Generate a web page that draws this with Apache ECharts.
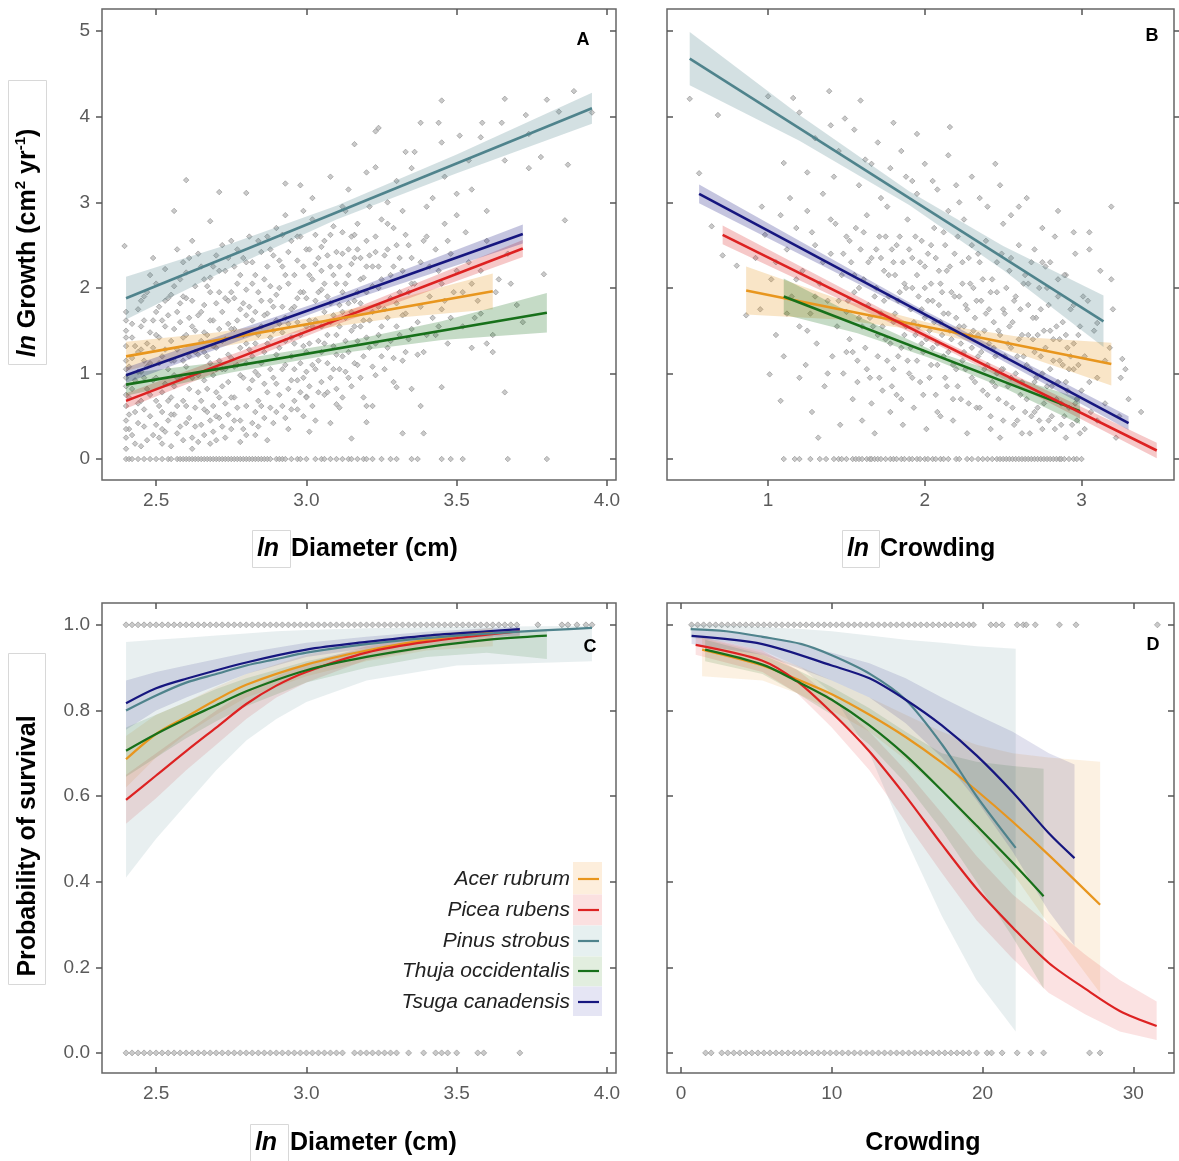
<!DOCTYPE html>
<html><head><meta charset="utf-8">
<script src="https://cdn.jsdelivr.net/npm/echarts@6/dist/echarts.min.js"></script>
<style>html,body{margin:0;padding:0;background:#fff}#c{width:1179px;height:1161px}</style>
</head><body><div id="c"></div>
<script>
// ---------------- DATA ----------------
const speciesNames = ['Acer rubrum','Picea rubens','Pinus strobus','Thuja occidentalis','Tsuga canadensis'];
const speciesColors = ['#E8961E','#DD2222','#4F838C','#17701A','#16167F'];

// Panel A: ln growth vs ln diameter (observed trees, read approximately)
const growthVsDiameter = [
[3.45,4.19],[3.66,4.21],[3.89,4.30],[3.80,4.20],[3.38,3.93],[3.24,3.87],[3.23,3.83],[3.44,3.93],[3.585,3.93],[3.65,3.93],[3.73,4.02],[3.84,4.06],[3.95,4.05],[3.16,3.68],[3.33,3.59],[3.45,3.70],[3.51,3.78],[3.58,3.76],[3.74,3.80],[3.78,3.53],[3.87,3.44],[3.74,3.40],[3.66,3.49],[3.54,3.49],[3.23,3.41],[3.36,3.59],[2.93,3.22],[2.71,3.12],[2.80,3.11],[2.60,3.26],[2.56,2.90],[2.68,2.78],[2.395,2.49],[3.86,2.79],[3.66,0.78],[3.79,2.16],[3.45,0.84],[3.39,0.30],[3.38,0.62],[3.32,0.30],[3.15,0.24],[3.20,0.43],[3.22,0.62],[3.30,0.84],[3.10,0.64],[3.00,0.73],
[3.02,3.05],[3.08,3.3],[3.14,3.15],[3.2,3.35],[3.27,3.0],[3.3,3.25],[3.35,3.4],[3.4,2.95],[3.46,3.3],[3.5,2.85],[3.55,3.15],[3.6,2.9],[3.12,2.95],[2.98,3.2],
[3.55,1.3],[3.58,1.7],[3.62,1.25],[3.68,2.05],[3.72,1.6],[3.55,2.05],
[2.40,0.25],[2.40,0.45],[2.40,0.62],[2.40,0.85],[2.40,1.05],[2.40,1.32],[2.40,1.5],[2.40,1.62],[2.41,0.35],[2.41,0.72],[2.42,1.18],[2.42,1.42],[2.43,0.55],[2.43,0.92],[2.44,1.25],[2.44,1.75],[2.45,0.15],[2.45,0.68],[2.45,1.02],[2.45,1.55],
[2.46,0.38],[2.46,1.9],[2.47,0.82],[2.47,1.35],[2.48,0.5],[2.48,1.12],[2.49,1.62],[2.49,0.28],[2.50,0.95],[2.50,1.45],[2.50,2.05],[2.51,0.62],[2.51,1.78],[2.52,1.2],[2.52,0.18],[2.53,0.88],[2.53,1.55],[2.53,2.22],[2.54,0.45],[2.54,1.05],[2.55,1.38],[2.55,0.72],[2.55,1.92],[2.49,2.35],[2.47,1.95],[2.52,0.35],[2.54,1.68],[2.46,1.15],
[2.56,0.52],[2.56,1.15],[2.57,1.72],[2.57,0.3],[2.58,0.95],[2.58,2.1],[2.59,1.42],[2.59,0.68],[2.60,1.88],[2.60,0.42],[2.60,1.08],[2.61,2.35],[2.61,0.82],[2.62,1.55],[2.62,0.25],[2.63,1.25],[2.63,2.02],[2.63,0.6],[2.64,1.68],[2.64,0.98],[2.65,0.4],[2.65,1.38],[2.65,2.25],[2.58,1.6],[2.61,1.2],[2.57,2.45],[2.62,0.12],[2.64,0.78],[2.59,1.9],[2.56,0.85],
[2.66,0.92],[2.66,1.8],[2.67,0.55],[2.67,1.45],[2.68,2.12],[2.68,1.12],[2.69,0.32],[2.69,1.62],[2.70,0.78],[2.70,2.38],[2.70,1.3],[2.71,1.95],[2.71,0.48],[2.72,1.05],[2.72,1.72],[2.73,0.65],[2.73,2.2],[2.73,1.4],[2.74,0.9],[2.74,1.85],[2.75,0.35],[2.75,1.18],[2.75,2.55],[2.68,0.18],[2.72,2.5],[2.69,0.98],[2.74,1.58],[2.67,2.02],[2.71,0.72],[2.66,1.25],
[2.76,1.52],[2.76,0.72],[2.77,2.05],[2.77,1.1],[2.78,0.45],[2.78,1.75],[2.79,2.35],[2.79,0.95],[2.80,1.35],[2.80,0.28],[2.80,1.98],[2.81,0.82],[2.81,2.6],[2.82,1.62],[2.82,1.2],[2.83,0.55],[2.83,2.15],[2.84,1.45],[2.84,0.98],[2.85,1.85],[2.85,0.62],[2.85,2.42],[2.78,1.3],[2.83,1.02],[2.76,2.25],[2.80,1.68],[2.84,0.38],[2.82,2.3],
[2.86,1.25],[2.86,2.1],[2.87,0.78],[2.87,1.7],[2.88,2.45],[2.88,1.05],[2.89,0.42],[2.89,1.5],[2.90,1.92],[2.90,0.88],[2.90,2.7],[2.91,1.3],[2.92,2.25],[2.92,0.62],[2.93,1.65],[2.93,1.1],[2.94,2.05],[2.94,0.35],[2.95,1.42],[2.95,2.55],[2.95,0.92],[2.88,1.85],[2.91,2.0],[2.93,2.85],[2.87,0.22],[2.92,1.48],
[2.96,1.78],[2.96,1.05],[2.97,2.32],[2.97,0.58],[2.98,1.45],[2.98,2.6],[2.99,0.95],[2.99,1.95],[3.00,1.25],[3.00,2.45],[3.00,0.72],[3.01,1.62],[3.01,2.15],[3.02,1.1],[3.02,2.8],[3.03,0.45],[3.03,1.85],[3.04,1.38],[3.04,2.35],[3.05,0.9],[3.05,1.98],[2.97,1.6],[3.01,0.32],[3.03,2.62],[2.99,2.9],[3.05,1.55],
[3.06,2.55],[3.06,1.35],[3.07,1.9],[3.07,0.78],[3.08,2.25],[3.08,1.6],[3.09,1.05],[3.09,2.72],[3.10,1.45],[3.10,2.05],[3.11,0.6],[3.11,1.8],[3.12,2.4],[3.12,1.2],[3.13,2.9],[3.13,1.65],[3.14,0.95],[3.14,2.15],[3.15,1.5],[3.15,2.6],[3.08,0.42],[3.12,1.95],
[3.16,1.85],[3.16,2.35],[3.17,1.1],[3.17,2.75],[3.18,1.55],[3.18,2.1],[3.19,0.72],[3.20,1.95],[3.20,2.55],[3.21,1.3],[3.21,2.95],[3.22,1.72],[3.22,2.25],[3.23,0.98],[3.23,2.6],[3.24,1.45],[3.24,2.0],[3.25,1.2],[3.25,2.8],[3.19,1.62],
[3.26,1.75],[3.27,2.45],[3.27,1.3],[3.28,2.15],[3.29,0.9],[3.29,2.7],[3.30,1.55],[3.31,2.35],[3.31,1.95],[3.32,1.15],[3.32,2.9],[3.33,1.7],[3.34,2.5],[3.34,1.4],[3.35,2.05],[3.35,0.82],
[3.37,1.6],[3.38,2.3],[3.39,1.25],[3.40,2.6],[3.41,1.9],[3.42,3.05],[3.43,1.45],[3.44,2.2],[3.45,1.75],[3.46,2.75],[3.47,1.35],[3.48,2.4],[3.49,1.95],[3.50,3.1],
[3.52,1.55],[3.54,2.3],[3.57,1.85],[3.60,2.55],[3.62,1.45],[3.64,2.1],[3.67,2.4],[3.70,1.8]
];
const growthVsDiameterDense = [
[2.40,0.12],[2.40,0.35],[2.40,0.75],[2.40,0.95],[2.40,1.15],[2.40,1.42],[2.40,1.72],[2.41,0.52],[2.41,1.08],[2.42,0.28],[2.42,0.82],[2.42,1.58],[2.43,0.18],[2.43,1.32],[2.44,0.42],[2.44,0.65],[2.44,1.02],[2.45,1.85],[2.45,1.28],[2.46,0.58],[2.46,0.95],[2.46,1.62],[2.47,0.22],[2.47,1.08],[2.48,0.75],[2.48,1.48],[2.48,2.15],[2.49,0.92],[2.49,1.3],[2.5,0.4],[2.5,0.68],[2.5,1.72],
[2.51,0.25],[2.51,1.12],[2.51,1.42],[2.52,0.55],[2.52,0.78],[2.52,1.62],[2.53,0.32],[2.53,1.28],[2.54,0.68],[2.54,1.88],[2.55,0.15],[2.55,0.52],[2.55,1.15],[2.56,0.98],[2.56,1.52],[2.56,2.02],[2.57,0.62],[2.57,1.28],[2.58,0.38],[2.58,1.82],[2.59,0.22],[2.59,1.15],[2.6,0.62],[2.6,1.45],[2.6,2.18],[2.53,1.85],[2.57,0.95],[2.59,2.3],
[2.61,0.48],[2.61,1.65],[2.62,0.95],[2.62,1.85],[2.63,0.38],[2.63,1.5],[2.64,0.2],[2.64,1.22],[2.64,2.4],[2.65,0.68],[2.65,1.72],[2.66,0.28],[2.66,1.48],[2.66,2.1],[2.67,0.82],[2.67,1.2],[2.68,0.45],[2.68,1.62],[2.68,1.95],[2.69,0.62],[2.69,1.32],[2.69,2.25],[2.7,0.5],[2.7,1.05],[2.7,1.82],[2.62,2.55],[2.66,0.58],[2.7,0.22],
[2.71,1.15],[2.71,1.52],[2.71,2.2],[2.72,0.38],[2.72,0.85],[2.72,1.38],[2.73,0.25],[2.73,1.88],[2.74,0.52],[2.74,1.22],[2.74,2.35],[2.75,0.72],[2.75,1.52],[2.75,1.95],[2.76,0.45],[2.76,1.08],[2.77,0.6],[2.77,1.62],[2.77,2.45],[2.78,0.98],[2.78,2.15],[2.79,0.35],[2.79,1.45],[2.79,1.82],[2.8,0.62],[2.8,1.12],[2.8,2.3],[2.73,1.05],[2.76,1.88],[2.78,0.2],
[2.81,1.28],[2.81,1.78],[2.82,0.42],[2.82,0.92],[2.82,2.05],[2.83,1.35],[2.83,1.72],[2.84,0.68],[2.84,1.95],[2.84,2.55],[2.85,1.12],[2.85,1.55],[2.86,0.48],[2.86,0.88],[2.86,1.68],[2.87,1.35],[2.87,2.25],[2.88,0.6],[2.88,1.42],[2.88,2.02],[2.89,0.95],[2.89,1.78],[2.89,2.38],[2.9,0.55],[2.9,1.22],[2.9,1.62],[2.87,2.6],[2.83,0.28],
[2.91,0.75],[2.91,1.58],[2.91,2.32],[2.92,1.05],[2.92,1.78],[2.93,0.48],[2.93,1.38],[2.93,2.15],[2.94,0.82],[2.94,1.58],[2.94,2.42],[2.95,1.2],[2.95,1.75],[2.96,0.68],[2.96,1.35],[2.96,2.15],[2.97,0.92],[2.97,1.88],[2.97,2.6],[2.98,0.78],[2.98,1.12],[2.98,1.95],[2.99,0.5],[2.99,1.32],[2.99,2.25],[3.0,1.02],[3.0,1.55],[3.0,1.88],[2.92,2.62],[2.95,0.58],
[3.01,0.85],[3.01,1.35],[3.01,2.45],[3.02,0.62],[3.02,1.55],[3.02,2.1],[3.03,1.05],[3.03,1.62],[3.03,2.28],[3.04,0.78],[3.04,1.15],[3.04,1.95],[3.05,1.25],[3.05,2.2],[3.05,2.48],[3.06,0.75],[3.06,1.72],[3.06,2.05],[3.07,1.12],[3.07,1.45],[3.07,2.38],[3.08,0.95],[3.08,1.82],[3.08,2.62],[3.09,1.32],[3.09,1.68],[3.09,2.15],[3.1,0.82],[3.1,1.22],[3.1,2.42],
[3.11,1.05],[3.11,1.55],[3.11,2.25],[3.12,0.72],[3.12,1.72],[3.12,2.65],[3.13,1.02],[3.13,1.38],[3.13,2.05],[3.14,1.25],[3.14,1.82],[3.14,2.45],[3.15,0.85],[3.15,1.72],[3.15,2.28],[3.16,1.12],[3.16,1.55],[3.16,2.62],[3.17,1.38],[3.17,1.95],[3.17,2.45],[3.18,0.95],[3.18,1.82],[3.18,2.35],[3.19,1.2],[3.19,2.12],[3.2,1.42],[3.2,2.25],[3.2,0.62],
[3.21,1.62],[3.21,2.38],[3.22,1.08],[3.22,2.02],[3.23,1.35],[3.23,2.42],[3.24,1.78],[3.24,2.25],[3.25,1.55],[3.25,2.1],[3.26,1.05],[3.26,2.38],[3.27,1.65],[3.27,2.75],[3.28,1.38],[3.28,1.88],[3.29,1.18],[3.29,2.25],[3.3,1.82],[3.3,2.5],[3.31,1.45],[3.32,1.68],[3.32,2.2],[3.33,1.25],[3.33,2.62],[3.34,1.95],[3.35,1.52],[3.35,2.35],
[3.36,2.05],[3.37,1.22],[3.38,1.78],[3.39,2.55],[3.4,1.45],[3.41,2.25],[3.42,1.65],[3.43,2.45],[3.44,1.55],[3.45,2.05],[3.46,1.85],[3.47,2.55],[3.48,1.65],[3.5,2.2],[3.52,1.95],[3.53,2.65],[3.56,1.65],[3.58,2.2],[3.6,1.35],[3.63,1.95]
];
const growthDiamZeroX = [2.40,2.41,2.42,2.44,2.46,2.48,2.50,2.52,2.54,2.55,2.57,2.58,2.59,2.60,2.61,2.62,2.63,2.64,2.65,2.66,2.67,2.68,2.69,2.70,2.71,2.72,2.73,2.74,2.75,2.76,2.77,2.78,2.79,2.80,2.81,2.82,2.83,2.84,2.85,2.86,2.87,2.88,2.90,2.91,2.92,2.93,2.95,2.97,2.98,3.00,3.03,3.05,3.06,3.08,3.10,3.12,3.14,3.15,3.17,3.19,3.20,3.22,3.25,3.28,3.30,3.35,3.37,3.45,3.48,3.52,3.67,3.80];

// Panel B: ln growth vs ln crowding
const growthVsCrowding = [
[0.50,4.21],[0.68,4.02],[1.39,4.30],[1.16,4.22],[1.0,4.24],[1.2,4.05],[1.49,3.98],[1.59,4.19],[1.8,3.93],[2.16,3.88],[1.10,3.46],[0.56,3.34],[0.64,2.72],[0.71,2.38],[0.80,2.26],[0.86,1.68],[1.01,0.99],[1.08,0.68],[3.19,2.10],[3.26,1.17],[3.01,1.90],[3.10,1.59],
[1.3,3.75],[1.45,3.6],[1.55,3.85],[1.62,3.5],[1.7,3.7],[1.78,3.4],[1.85,3.6],[1.92,3.25],[2.0,3.45],[2.08,3.15],[2.15,3.55],[2.22,3.0],[2.3,3.3],[2.4,2.95],[2.48,3.2],[2.55,2.85],[2.65,3.05],[2.75,2.7],[2.85,2.9],[2.95,2.65],[3.05,2.45],[1.25,3.35],[1.4,3.9],[1.95,3.8],[2.45,3.45],[2.7,2.45],[2.8,2.3],[2.9,2.15],
[3.02,0.35],[3.05,0.9],[3.1,0.45],[3.15,1.15],[3.22,0.25],[3.3,0.7],[3.38,0.55],[3.25,0.95],[2.9,0.25],[2.93,1.2],[2.96,0.65],[2.99,1.55],
[0.92,2.35],[0.95,1.75],[0.98,2.62],[1.02,2.1],[1.05,1.45],[1.08,2.85],[1.1,1.2],[1.12,2.45],[1.15,1.9],[1.18,2.7],[1.2,1.55],[1.2,0.95],[1.14,3.05],[0.96,2.95],
[1.22,2.2],[1.24,1.1],[1.25,2.9],[1.27,1.7],[1.28,0.55],[1.3,2.5],[1.31,1.35],[1.33,2.05],[1.35,3.1],[1.36,0.85],[1.38,1.85],[1.4,2.4],[1.41,1.2],[1.43,2.75],[1.44,1.55],[1.46,0.4],[1.47,2.15],[1.48,1.0],[1.5,2.6],[1.5,1.72],[1.32,0.25],[1.42,3.3],
[1.52,1.4],[1.53,2.3],[1.54,0.7],[1.55,1.95],[1.56,2.7],[1.57,1.15],[1.58,1.65],[1.59,2.45],[1.6,0.45],[1.61,2.1],[1.62,1.3],[1.63,2.85],[1.64,1.8],[1.65,0.95],[1.66,2.35],[1.67,1.55],[1.68,0.3],[1.69,2.0],[1.7,1.2],[1.71,2.6],[1.72,1.7],[1.73,0.8],[1.74,2.2],[1.75,1.4],[1.76,2.95],[1.77,1.9],[1.78,0.55],[1.79,2.45],[1.8,1.05],[1.8,1.6],[1.58,3.2],[1.66,3.45],[1.72,3.05],
[1.81,2.15],[1.82,0.75],[1.83,1.85],[1.84,2.6],[1.85,1.3],[1.86,0.4],[1.87,2.05],[1.88,1.55],[1.89,2.8],[1.9,1.0],[1.91,1.75],[1.92,2.35],[1.93,0.6],[1.94,1.45],[1.95,2.15],[1.96,1.9],[1.97,0.9],[1.98,2.55],[1.99,1.25],[2.0,1.65],[2.0,2.0],[2.01,0.35],[2.02,2.4],[2.03,1.5],[2.04,1.1],[2.05,1.85],[2.06,2.7],[2.07,0.75],[2.08,1.35],[2.09,2.2],[2.1,1.6],[2.1,0.5],[1.88,3.3],[1.95,3.1],[2.05,3.25],
[2.11,1.95],[2.12,1.2],[2.13,2.5],[2.14,0.85],[2.15,1.7],[2.16,2.25],[2.17,1.4],[2.18,0.45],[2.19,1.9],[2.2,1.05],[2.21,2.6],[2.22,1.55],[2.23,0.7],[2.24,2.05],[2.25,1.25],[2.26,1.8],[2.27,0.3],[2.28,2.35],[2.29,1.45],[2.3,0.95],[2.31,2.0],[2.32,1.65],[2.33,0.6],[2.34,1.2],[2.35,2.3],[2.36,1.85],[2.37,0.8],[2.38,1.5],[2.39,2.55],[2.4,1.1],[2.15,2.9],[2.25,2.8],[2.35,3.05],[2.2,3.2],
[2.41,1.75],[2.42,0.5],[2.43,2.1],[2.44,1.3],[2.45,0.85],[2.46,1.95],[2.47,1.5],[2.48,0.25],[2.49,2.4],[2.5,1.05],[2.51,1.7],[2.52,0.65],[2.53,1.35],[2.54,2.2],[2.55,0.95],[2.56,1.6],[2.57,0.4],[2.58,1.9],[2.59,1.2],[2.6,2.5],[2.61,0.75],[2.62,1.45],[2.63,2.05],[2.64,0.55],[2.65,1.1],[2.66,1.8],[2.67,0.3],[2.68,2.3],[2.69,1.4],[2.7,0.9],[2.5,2.75],[2.6,2.95],
[2.71,1.65],[2.72,0.6],[2.73,2.0],[2.74,1.2],[2.75,0.35],[2.76,1.5],[2.77,2.25],[2.78,0.85],[2.79,1.8],[2.8,1.05],[2.81,0.5],[2.82,1.4],[2.83,2.6],[2.84,0.7],[2.85,1.9],[2.86,1.15],[2.87,0.4],[2.88,1.6],[2.89,2.15],[2.9,0.9],[2.91,1.3],[2.92,0.6],[2.93,1.75],[2.95,1.05],[2.96,2.4],[2.97,0.45],[2.98,1.45],[3.0,0.8],
[3.02,1.2],[3.04,1.85],[3.06,0.55],[3.08,1.5],[3.1,0.95],[3.12,2.2],[3.15,0.65],[3.18,1.3],[3.2,1.75],[3.24,0.5],[3.28,1.05],[3.19,2.95],[3.05,2.65]
];
const growthVsCrowdingDense = [
[1.51,1.85],[1.52,2.55],[1.54,1.25],[1.55,2.15],[1.57,0.9],[1.58,2.0],[1.6,1.55],[1.61,2.65],[1.63,1.05],[1.64,2.3],[1.65,1.65],[1.66,0.65],[1.68,1.9],[1.69,2.45],[1.7,1.45],
[1.71,0.95],[1.72,2.35],[1.73,1.55],[1.74,1.85],[1.75,2.6],[1.76,1.15],[1.77,2.15],[1.78,1.35],[1.79,0.85],[1.8,2.3],[1.81,1.7],[1.82,2.5],[1.83,1.2],[1.84,1.95],[1.85,0.7],[1.86,2.3],[1.87,1.45],[1.88,2.0],[1.89,1.15],[1.9,2.45],
[1.91,1.3],[1.92,2.0],[1.93,1.6],[1.94,2.6],[1.95,1.15],[1.96,1.55],[1.97,2.3],[1.98,1.75],[1.99,0.75],[2.0,2.25],[2.01,1.4],[2.02,1.85],[2.03,0.95],[2.04,2.05],[2.05,1.3],[2.06,1.6],[2.07,2.35],[2.08,1.1],[2.09,1.8],[2.1,2.05],[1.92,0.95],[1.98,1.35],[2.04,2.5],[2.08,0.55],
[2.11,1.45],[2.12,1.7],[2.13,0.95],[2.14,2.2],[2.15,1.25],[2.16,1.5],[2.17,1.95],[2.18,1.1],[2.19,2.4],[2.2,1.65],[2.21,0.85],[2.22,1.9],[2.23,1.35],[2.24,2.3],[2.25,1.55],[2.26,1.05],[2.27,1.75],[2.28,0.65],[2.29,2.05],[2.3,1.3],[2.12,2.65],[2.18,0.7],[2.24,1.15],[2.3,2.5],
[2.31,1.5],[2.32,0.9],[2.33,1.85],[2.34,1.45],[2.35,0.6],[2.36,1.25],[2.37,2.1],[2.38,1.05],[2.39,1.7],[2.4,0.75],[2.41,1.35],[2.42,1.95],[2.43,0.9],[2.44,1.6],[2.45,1.2],[2.46,2.3],[2.47,0.7],[2.48,1.45],[2.49,1.05],[2.5,1.75],[2.34,2.4],[2.42,0.35],[2.46,1.0],[2.5,0.45],
[2.51,1.2],[2.52,2.0],[2.53,0.85],[2.54,1.55],[2.55,1.3],[2.56,0.6],[2.57,1.85],[2.58,1.0],[2.59,0.45],[2.6,1.4],[2.61,1.75],[2.62,0.9],[2.63,1.2],[2.64,2.15],[2.65,0.7],[2.66,1.45],[2.67,1.05],[2.68,0.5],[2.69,1.65],[2.7,1.25],[2.55,2.35],[2.62,0.3],[2.66,2.05],[2.7,0.55],
[2.71,0.95],[2.72,1.45],[2.73,0.45],[2.74,1.75],[2.75,1.0],[2.76,0.65],[2.77,1.3],[2.78,2.0],[2.79,0.45],[2.8,1.5],[2.81,0.85],[2.82,1.15],[2.83,0.35],[2.84,1.55],[2.85,0.9],[2.86,1.4],[2.87,0.65],[2.88,1.1],[2.89,0.5],[2.9,1.45],[2.91,0.8],[2.92,1.05],[2.94,0.4],[2.95,1.35],[2.97,0.7],[2.98,1.1],[2.99,0.3],[2.75,2.3],[2.85,2.1],[2.95,1.8],
[1.05,2.3],[1.12,1.7],[1.18,2.1],[1.25,1.5],[1.3,1.9],[1.35,2.3],[1.38,1.0],[1.45,1.85],[1.48,2.4],[1.5,1.25],[1.28,2.65],[1.4,2.8]
];
const growthCrowdZeroX = [1.10,1.17,1.20,1.27,1.33,1.37,1.42,1.45,1.47,1.50,1.54,1.56,1.58,1.60,1.63,1.65,1.66,1.68,1.70,1.72,1.75,1.78,1.80,1.82,1.85,1.87,1.90,1.92,1.95,1.97,2.00,2.02,2.05,2.07,2.10,2.12,2.15,2.20,2.22,2.27,2.30,2.34,2.37,2.40,2.43,2.46,2.48,2.50,2.52,2.54,2.56,2.58,2.60,2.62,2.64,2.66,2.68,2.70,2.72,2.74,2.76,2.78,2.80,2.82,2.84,2.86,2.87,2.89,2.92,2.95,2.97,3.00];

// Panel C: survival (1 = alive, 0 = dead) vs ln diameter
const survDiamAliveX = [2.40,2.42,2.44,2.46,2.48,2.50,2.52,2.54,2.56,2.58,2.60,2.62,2.64,2.66,2.68,2.70,2.72,2.74,2.76,2.78,2.80,2.82,2.84,2.86,2.88,2.90,2.92,2.94,2.96,2.98,3.00,3.02,3.04,3.06,3.08,3.10,3.12,3.14,3.16,3.18,3.20,3.22,3.24,3.26,3.28,3.30,3.32,3.34,3.36,3.38,3.40,3.42,3.44,3.46,3.48,3.50,3.52,3.54,3.56,3.58,3.60,3.62,3.64,3.66,3.68,3.70,3.77,3.85,3.87,3.90,3.93,3.95];
const survDiamDeadX = [2.40,2.42,2.44,2.46,2.48,2.50,2.52,2.54,2.56,2.58,2.60,2.62,2.64,2.66,2.68,2.70,2.72,2.74,2.76,2.78,2.80,2.82,2.84,2.86,2.88,2.90,2.92,2.94,2.96,2.98,3.00,3.02,3.04,3.06,3.08,3.10,3.12,3.16,3.18,3.20,3.22,3.24,3.26,3.28,3.30,3.34,3.39,3.43,3.45,3.47,3.50,3.57,3.59,3.71];

// Panel D: survival vs crowding
const survCrowdAliveX = [0.7,1.1,1.5,1.9,2.3,2.7,3.1,3.5,3.9,4.3,4.7,5.1,5.5,5.9,6.3,6.7,7.1,7.5,7.9,8.3,8.7,9.1,9.5,9.9,10.3,10.7,11.1,11.5,11.9,12.3,12.7,13.1,13.5,13.9,14.3,14.7,15.1,15.5,15.9,16.3,16.7,17.1,17.5,17.9,18.3,18.7,19.1,19.4,20.55,20.9,21.3,22.3,22.7,22.9,23.5,25.1,26.2,31.6];
const survCrowdDeadX = [1.63,2.0,2.7,3.1,3.5,3.9,4.3,4.7,5.1,5.5,5.9,6.3,6.7,7.1,7.5,7.9,8.3,8.7,9.1,9.5,9.9,10.3,10.7,11.1,11.5,11.9,12.3,12.7,13.1,13.5,13.9,14.3,14.7,15.1,15.5,15.9,16.3,16.7,17.1,17.5,17.9,18.3,18.7,19.1,19.6,20.3,20.6,21.3,22.3,23.2,24.05,27.1,27.8];

// Fitted lines and confidence bands, panel A (x = ln diameter)
const A_acer_x=[2.40,3.62], A_acer_y=[1.20,1.96];
const A_acer_bx=[2.40,2.70,3.00,3.30,3.62], A_acer_lo=[1.03,1.30,1.50,1.65,1.75], A_acer_hi=[1.37,1.48,1.64,1.87,2.17];
const A_picea_x=[2.40,3.72], A_picea_y=[0.68,2.46];
const A_picea_bx=[2.40,3.06,3.72], A_picea_lo=[0.59,1.52,2.36], A_picea_hi=[0.77,1.62,2.56];
const A_pinus_x=[2.40,3.95], A_pinus_y=[1.88,4.10];
const A_pinus_bx=[2.40,2.75,3.10,3.50,3.95], A_pinus_lo=[1.63,2.24,2.80,3.34,3.92], A_pinus_hi=[2.13,2.52,2.96,3.56,4.28];
const A_thuja_x=[2.40,3.80], A_thuja_y=[0.87,1.71];
const A_thuja_bx=[2.40,2.75,3.10,3.45,3.80], A_thuja_lo=[0.74,1.01,1.23,1.39,1.48], A_thuja_hi=[1.00,1.15,1.35,1.61,1.94];
const A_tsuga_x=[2.40,3.72], A_tsuga_y=[0.98,2.63];
const A_tsuga_bx=[2.40,3.06,3.72], A_tsuga_lo=[0.89,1.755,2.52], A_tsuga_hi=[1.07,1.855,2.74];

// Panel B (x = ln crowding)
const B_acer_x=[0.86,3.19], B_acer_y=[1.97,1.11];
const B_acer_bx=[0.86,1.45,2.03,2.60,3.19], B_acer_lo=[1.69,1.63,1.49,1.23,0.86], B_acer_hi=[2.25,1.87,1.59,1.43,1.36];
const B_picea_x=[0.71,3.48], B_picea_y=[2.62,0.10];
const B_picea_bx=[0.71,2.10,3.48], B_picea_lo=[2.51,1.315,0.01], B_picea_hi=[2.73,1.395,0.19];
const B_pinus_x=[0.50,3.14], B_pinus_y=[4.68,1.61];
const B_pinus_bx=[0.50,1.20,1.90,2.50,3.14], B_pinus_lo=[4.37,3.72,2.97,2.21,1.31], B_pinus_hi=[4.99,4.02,3.13,2.49,1.91];
const B_thuja_x=[1.10,2.99], B_thuja_y=[1.90,0.56];
const B_thuja_bx=[1.10,1.57,2.05,2.52,2.99], B_thuja_lo=[1.69,1.47,1.17,0.82,0.41], B_thuja_hi=[2.11,1.67,1.27,0.98,0.71];
const B_tsuga_x=[0.56,3.30], B_tsuga_y=[3.10,0.42];
const B_tsuga_bx=[0.56,1.93,3.30], B_tsuga_lo=[2.99,1.72,0.34], B_tsuga_hi=[3.21,1.80,0.50];

// Panel C (x = ln diameter, y = survival probability)
const C_acer_x=[2.40,2.50,2.60,2.70,2.80,3.00,3.20,3.40,3.62], C_acer_y=[0.686,0.745,0.785,0.825,0.86,0.907,0.94,0.965,0.983];
const C_acer_lo=[0.62,0.69,0.745,0.79,0.83,0.88,0.915,0.94,0.95], C_acer_hi=[0.74,0.79,0.82,0.855,0.885,0.93,0.958,0.978,0.993];
const C_picea_x=[2.40,2.50,2.60,2.70,2.80,2.90,3.00,3.20,3.40,3.71], C_picea_y=[0.591,0.648,0.705,0.76,0.815,0.858,0.89,0.935,0.96,0.985];
const C_picea_lo=[0.535,0.595,0.66,0.72,0.78,0.83,0.865,0.918,0.945,0.972], C_picea_hi=[0.65,0.70,0.75,0.80,0.845,0.88,0.91,0.95,0.972,0.993];
const C_pinus_x=[2.40,2.50,2.60,2.70,2.80,2.90,3.00,3.20,3.50,3.95], C_pinus_y=[0.80,0.835,0.865,0.885,0.905,0.92,0.935,0.955,0.975,0.993];
const C_pinus_lo=[0.41,0.50,0.58,0.66,0.73,0.78,0.82,0.87,0.905,0.915], C_pinus_hi=[0.96,0.965,0.97,0.975,0.98,0.985,0.988,0.992,0.995,0.998];
const C_thuja_x=[2.40,2.50,2.60,2.70,2.80,3.00,3.20,3.40,3.60,3.80], C_thuja_y=[0.706,0.745,0.78,0.812,0.845,0.894,0.925,0.948,0.965,0.975];
const C_thuja_lo=[0.645,0.69,0.735,0.775,0.81,0.865,0.9,0.925,0.935,0.92], C_thuja_hi=[0.76,0.79,0.82,0.85,0.875,0.915,0.945,0.965,0.978,0.99];
const C_tsuga_x=[2.40,2.50,2.60,2.80,3.00,3.20,3.40,3.60,3.71], C_tsuga_y=[0.817,0.852,0.874,0.912,0.942,0.96,0.975,0.985,0.99];
const C_tsuga_lo=[0.755,0.80,0.83,0.885,0.925,0.945,0.962,0.972,0.975], C_tsuga_hi=[0.87,0.89,0.905,0.935,0.958,0.972,0.984,0.992,0.996];

// Panel D (x = crowding, y = survival probability)
const D_acer_x=[1.4,5.4,7.7,10,12.5,14.9,17.3,19.6,22.0,24.4,27.8], D_acer_y=[0.942,0.905,0.873,0.838,0.79,0.738,0.678,0.613,0.54,0.462,0.346];
const D_acer_lo=[0.88,0.87,0.84,0.80,0.75,0.685,0.61,0.52,0.42,0.30,0.14], D_acer_hi=[0.97,0.935,0.905,0.87,0.83,0.79,0.75,0.72,0.70,0.69,0.68];
const D_picea_x=[0.97,5.4,7.7,10,12.5,14.9,17.3,19.6,22.0,24.4,26.8,29.1,31.55], D_picea_y=[0.953,0.916,0.868,0.795,0.704,0.60,0.487,0.384,0.293,0.21,0.15,0.098,0.063];
const D_picea_lo=[0.93,0.89,0.84,0.76,0.66,0.54,0.42,0.31,0.22,0.14,0.09,0.05,0.03], D_picea_hi=[0.975,0.94,0.895,0.83,0.75,0.66,0.56,0.46,0.37,0.30,0.23,0.17,0.12];
const D_pinus_x=[0.64,3,5.4,8,10,12.5,14.9,17.3,19.6,22.2], D_pinus_y=[0.99,0.985,0.972,0.955,0.929,0.886,0.825,0.721,0.60,0.479];
const D_pinus_lo=[0.97,0.96,0.94,0.90,0.84,0.70,0.50,0.32,0.17,0.05], D_pinus_hi=[1.0,0.998,0.995,0.99,0.985,0.975,0.965,0.958,0.95,0.944];
const D_thuja_x=[1.6,5.4,7.7,10,12.5,14.9,17.3,19.6,22.0,24.05], D_thuja_y=[0.942,0.907,0.868,0.825,0.765,0.695,0.613,0.531,0.444,0.366];
const D_thuja_lo=[0.915,0.885,0.84,0.79,0.72,0.63,0.52,0.40,0.27,0.15], D_thuja_hi=[0.965,0.93,0.895,0.855,0.805,0.75,0.70,0.68,0.67,0.664];
const D_tsuga_x=[0.7,5.4,10,12.5,14.9,17.3,19.6,22.0,24.4,26.1], D_tsuga_y=[0.974,0.955,0.905,0.875,0.825,0.765,0.695,0.609,0.513,0.455];
const D_tsuga_lo=[0.955,0.93,0.87,0.83,0.77,0.69,0.59,0.47,0.33,0.25], D_tsuga_hi=[0.99,0.975,0.935,0.91,0.875,0.83,0.79,0.75,0.70,0.674];

// Axis tick values
const diamTicks = [2.5,3.0,3.5,4.0];
const growthTicks = [0,1,2,3,4,5];
const lnCrowdTicks = [1,2,3];
const survTicks = [0,0.2,0.4,0.6,0.8,1.0];
const crowdTicks = [0,10,20,30];

// ---------------- CHART ----------------
const FONT = '"Liberation Sans", Arial, sans-serif';
const chart = echarts.init(document.getElementById('c'), null, {renderer:'canvas'});

function zip(xs, ys){ return xs.map((x,i)=>[x, ys[i]]); }
function rgba(hex, a){ const n=parseInt(hex.slice(1),16); return 'rgba('+((n>>16)&255)+','+((n>>8)&255)+','+(n&255)+','+a+')'; }

const grids = [
  {left:102, top:9, width:514, height:471},
  {left:667, top:9, width:507, height:471},
  {left:102, top:603, width:514, height:470},
  {left:667, top:603, width:507, height:470}
].map(g=>Object.assign(g,{show:true, borderColor:'#666', borderWidth:1.5, backgroundColor:'transparent', containLabel:false}));

const ranges = [
  {x:[2.32,4.03], y:[-0.245,5.26], xt:diamTicks, yt:growthTicks, xf:v=>v.toFixed(1), yf:v=>String(v), yl:true},
  {x:[0.355,3.59], y:[-0.245,5.26], xt:lnCrowdTicks, yt:growthTicks, xf:v=>String(v), yf:v=>String(v), yl:false},
  {x:[2.32,4.03], y:[-0.047,1.051], xt:diamTicks, yt:survTicks, xf:v=>v.toFixed(1), yf:v=>v.toFixed(1), yl:true},
  {x:[-0.93,32.7], y:[-0.047,1.051], xt:crowdTicks, yt:survTicks, xf:v=>String(v), yf:v=>v.toFixed(1), yl:false}
];
// tick directions [bottom, top, left, right] : true = inside
const tickInside = [
  [false,true,false,true],
  [false,true,true,false],
  [true,true,false,true],
  [true,true,true,true]
];
const tickStyle = {color:'#555', width:1.5};
const labelStyle = {color:'#5a5a5a', fontSize:19, fontFamily:FONT};
const noLine = {show:false, onZero:false};

const xAxes=[], yAxes=[];
ranges.forEach((r,i)=>{
  xAxes.push({type:'value', gridIndex:i, position:'bottom', min:r.x[0], max:r.x[1],
    axisLine:noLine, splitLine:{show:false},
    axisTick:{show:true, inside:tickInside[i][0], length:6, customValues:r.xt, lineStyle:tickStyle},
    axisLabel:Object.assign({show:true, customValues:r.xt, formatter:r.xf, margin:11}, labelStyle)});
});
ranges.forEach((r,i)=>{
  xAxes.push({type:'value', gridIndex:i, position:'top', min:r.x[0], max:r.x[1],
    axisLine:noLine, splitLine:{show:false},
    axisTick:{show:true, inside:tickInside[i][1], length:6, customValues:r.xt, lineStyle:tickStyle},
    axisLabel:{show:false}});
});
ranges.forEach((r,i)=>{
  yAxes.push({type:'value', gridIndex:i, position:'left', min:r.y[0], max:r.y[1],
    axisLine:noLine, splitLine:{show:false},
    axisTick:{show:true, inside:tickInside[i][2], length:6, customValues:r.yt, lineStyle:tickStyle},
    axisLabel:Object.assign({show:r.yl, customValues:r.yt, formatter:r.yf, margin:12}, labelStyle)});
});
ranges.forEach((r,i)=>{
  yAxes.push({type:'value', gridIndex:i, position:'right', min:r.y[0], max:r.y[1],
    axisLine:noLine, splitLine:{show:false},
    axisTick:{show:true, inside:tickInside[i][3], length:6, customValues:r.yt, lineStyle:tickStyle},
    axisLabel:{show:false}});
});

const series=[];
function scatter(gi, pts, size){
  series.push({type:'scatter', xAxisIndex:gi, yAxisIndex:gi, data:pts, symbol:'diamond', symbolSize:size,
    itemStyle:{color:'#bdbdbd', borderColor:'#858585', borderWidth:0.7}, silent:true, z:1, large:false});
}
function band(gi, xs, lo, hi, color, alpha){
  series.push({type:'custom', xAxisIndex:gi, yAxisIndex:gi, silent:true, z:2, clip:true,
    data:[[xs[0], lo[0]]],
    renderItem:function(params, api){
      const pts=[];
      for(let k=0;k<xs.length;k++) pts.push(api.coord([xs[k], hi[k]]));
      for(let k=xs.length-1;k>=0;k--) pts.push(api.coord([xs[k], lo[k]]));
      return {type:'polygon', shape:{points:pts}, style:{fill:rgba(color, alpha), stroke:null}};
    }});
}
function line(gi, xs, ys, color, width, smooth){
  series.push({type:'line', xAxisIndex:gi, yAxisIndex:gi, data:zip(xs,ys), showSymbol:false, symbol:'none',
    smooth:smooth?0.3:false, lineStyle:{color:color, width:width}, silent:true, z:3});
}

// Panel A
scatter(0, growthVsDiameter.concat(growthVsDiameterDense, growthDiamZeroX.map(x=>[x,0])), 5.5);
const Aset=[[A_acer_x,A_acer_y,A_acer_bx,A_acer_lo,A_acer_hi],[A_picea_x,A_picea_y,A_picea_bx,A_picea_lo,A_picea_hi],[A_pinus_x,A_pinus_y,A_pinus_bx,A_pinus_lo,A_pinus_hi],[A_thuja_x,A_thuja_y,A_thuja_bx,A_thuja_lo,A_thuja_hi],[A_tsuga_x,A_tsuga_y,A_tsuga_bx,A_tsuga_lo,A_tsuga_hi]];
Aset.forEach((s,k)=>band(0,s[2],s[3],s[4],speciesColors[k],0.25));
[1,3,0,4,2].forEach(k=>line(0,Aset[k][0],Aset[k][1],speciesColors[k],2.6,false));

// Panel B
scatter(1, growthVsCrowding.concat(growthVsCrowdingDense, growthCrowdZeroX.map(x=>[x,0])), 5.5);
const Bset=[[B_acer_x,B_acer_y,B_acer_bx,B_acer_lo,B_acer_hi],[B_picea_x,B_picea_y,B_picea_bx,B_picea_lo,B_picea_hi],[B_pinus_x,B_pinus_y,B_pinus_bx,B_pinus_lo,B_pinus_hi],[B_thuja_x,B_thuja_y,B_thuja_bx,B_thuja_lo,B_thuja_hi],[B_tsuga_x,B_tsuga_y,B_tsuga_bx,B_tsuga_lo,B_tsuga_hi]];
Bset.forEach((s,k)=>band(1,s[2],s[3],s[4],speciesColors[k],0.25));
[0,3,1,4,2].forEach(k=>line(1,Bset[k][0],Bset[k][1],speciesColors[k],2.6,false));

// Panel C
scatter(2, survDiamAliveX.map(x=>[x,1]).concat(survDiamDeadX.map(x=>[x,0])), 6);
const Cset=[[C_acer_x,C_acer_y,C_acer_lo,C_acer_hi],[C_picea_x,C_picea_y,C_picea_lo,C_picea_hi],[C_pinus_x,C_pinus_y,C_pinus_lo,C_pinus_hi],[C_thuja_x,C_thuja_y,C_thuja_lo,C_thuja_hi],[C_tsuga_x,C_tsuga_y,C_tsuga_lo,C_tsuga_hi]];
Cset.forEach((s,k)=>band(2,s[0],s[2],s[3],speciesColors[k],0.13));
Cset.forEach((s,k)=>line(2,s[0],s[1],speciesColors[k],2.2,true));

// Panel D
scatter(3, survCrowdAliveX.map(x=>[x,1]).concat(survCrowdDeadX.map(x=>[x,0])), 6);
const Dset=[[D_acer_x,D_acer_y,D_acer_lo,D_acer_hi],[D_picea_x,D_picea_y,D_picea_lo,D_picea_hi],[D_pinus_x,D_pinus_y,D_pinus_lo,D_pinus_hi],[D_thuja_x,D_thuja_y,D_thuja_lo,D_thuja_hi],[D_tsuga_x,D_tsuga_y,D_tsuga_lo,D_tsuga_hi]];
Dset.forEach((s,k)=>band(3,s[0],s[2],s[3],speciesColors[k],0.13));
Dset.forEach((s,k)=>line(3,s[0],s[1],speciesColors[k],2.2,true));

// ---------------- TEXT / DECORATION ----------------
const boldRich = {
  i:{fontStyle:'italic', fontWeight:'bold', fontSize:25, fontFamily:FONT, fill:'#000'},
  b:{fontWeight:'bold', fontSize:25, fontFamily:FONT, fill:'#000'},
  s:{fontWeight:'bold', fontSize:15, fontFamily:FONT, fill:'#000', verticalAlign:'top', lineHeight:30}
};
const graphic = [];
function txt(x,y,text,opt){ graphic.push(Object.assign({type:'text', x:x, y:y, silent:true, z:100,
  style:Object.assign({text:text, fill:'#000', fontFamily:FONT, fontSize:25, fontWeight:'bold', align:'center', verticalAlign:'middle'}, opt||{})})); }
function box(x,y,w,h){ graphic.push({type:'rect', silent:true, z:90, shape:{x:x,y:y,width:w,height:h}, style:{fill:null, stroke:'#d8d8d8', lineWidth:1}}); }

// label boxes (as in the source figure)
box(8.5,80.5,38,284); box(8.5,653.5,37,331);
box(252.5,530.5,38,37); box(842.5,530.5,37,37); box(250.5,1124.5,38,37);

// y titles
graphic.push({type:'text', x:28, y:243, rotation:Math.PI/2, silent:true, z:100,
  style:{text:'{i|ln} {b|Growth (cm}{s|2}{b| yr}{s|-1}{b|)}', rich:boldRich, align:'center', verticalAlign:'middle', fontFamily:FONT, fontSize:25, fontWeight:'bold', fill:'#000'}});
graphic.push({type:'text', x:28, y:846, rotation:Math.PI/2, silent:true, z:100,
  style:{text:'Probability of survival', align:'center', verticalAlign:'middle', fontFamily:FONT, fontSize:25, fontWeight:'bold', fill:'#000'}});

// x titles
txt(268,549,'ln',{fontStyle:'italic'}); txt(291,549,'Diameter (cm)',{align:'left'});
txt(858,549,'ln',{fontStyle:'italic'}); txt(880,549,'Crowding',{align:'left'});
txt(266,1143,'ln',{fontStyle:'italic'}); txt(290,1143,'Diameter (cm)',{align:'left'});
txt(923,1143,'Crowding');

// panel letters
txt(583,40,'A',{fontSize:18}); txt(1152,36,'B',{fontSize:18});
txt(590,647,'C',{fontSize:18}); txt(1153,645,'D',{fontSize:18});

// legend (panel C)
const legendBg = ['#FDEEDC','#FBE0E0','#E6F0F0','#E2EEDF','#E5E5F4'];
const legendRowY = [879,910,941,971,1002];
const legendEdges = [862,894.5,925.5,956.5,986.5,1016];
speciesNames.forEach((nm,k)=>{
  graphic.push({type:'rect', silent:true, z:95, shape:{x:573,y:legendEdges[k],width:29,height:legendEdges[k+1]-legendEdges[k]}, style:{fill:legendBg[k]}});
  graphic.push({type:'line', silent:true, z:96, shape:{x1:578,y1:legendRowY[k],x2:599,y2:legendRowY[k]}, style:{stroke:speciesColors[k], lineWidth:2.2}});
  txt(570, legendRowY[k], nm, {align:'right', fontStyle:'italic', fontWeight:'normal', fontSize:21, fill:'#222'});
});

chart.setOption({animation:false, backgroundColor:'#fff', grid:grids, xAxis:xAxes, yAxis:yAxes, series:series, graphic:graphic});
</script></body></html>
